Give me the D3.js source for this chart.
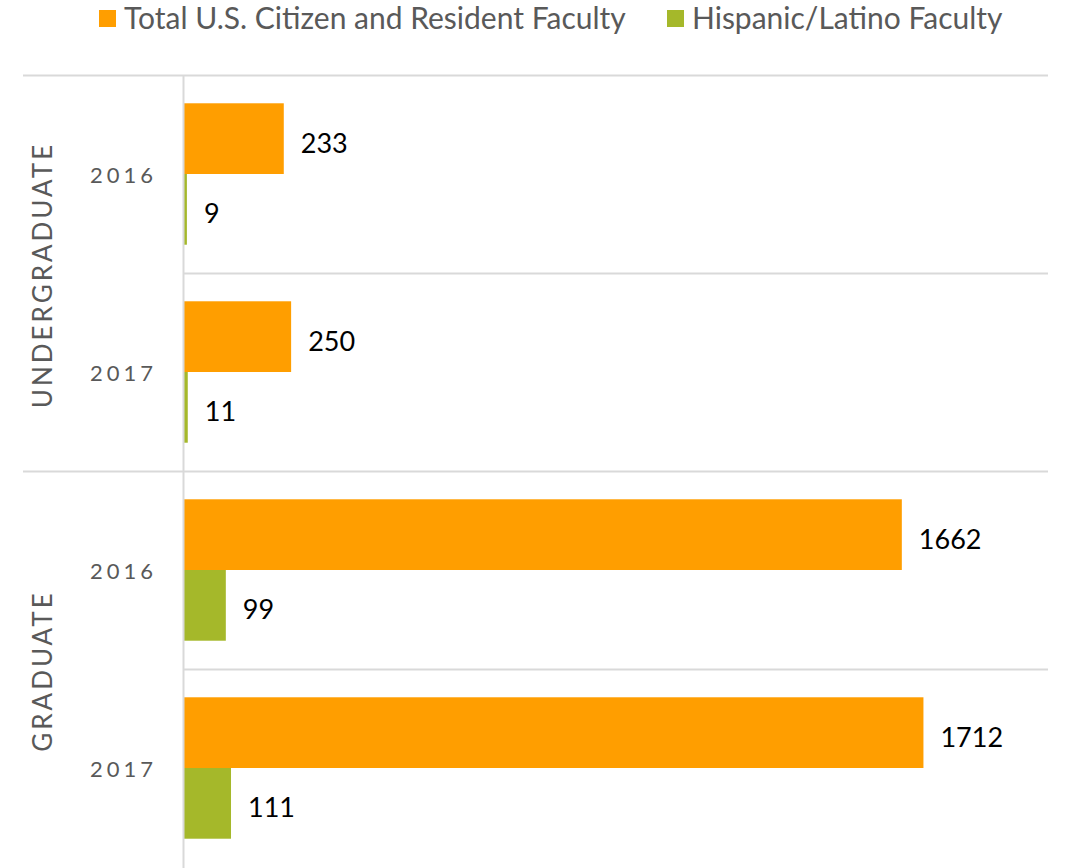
<!DOCTYPE html>
<html>
<head>
<meta charset="utf-8">
<script src="https://cdn.jsdelivr.net/npm/d3@7"></script>
<style>
  body { margin: 0; background: #fff; }
  svg text { font-family: Lato, "Open Sans", sans-serif; }
</style>
</head>
<body>
<svg id="chart" width="1077" height="868"></svg>
<script>
//chart data
var groups = ["UNDERGRADUATE", "GRADUATE"];
var years = ["2016", "2017"];
var seriesNames = ["Total U.S. Citizen and Resident Faculty", "Hispanic/Latino Faculty"];
var totalFaculty = [233, 250, 1662, 1712];
var hispanicFaculty = [9, 11, 99, 111];
var colors = ["#FF9E00", "#A5B82A"];

//layout (plotTop etc, "top" is taken by window.top)
var chartHeight = 868;
var plotLeft = 183, plotRight = 1048, plotTop = 75, plotBottom = 867;

var svg = d3.select("#chart");

//one row per group/year
var rows = [];
groups.forEach(function(g, gi) {
  years.forEach(function(yr, yi) {
    var i = gi * years.length + yi;
    rows.push({group: g, year: yr, key: g + "-" + yr, values: [totalFaculty[i], hispanicFaculty[i]]});
  });
});

var x = d3.scaleLinear().domain([0, 2000]).range([plotLeft, plotRight]);
var y = d3.scaleBand().domain(rows.map(function(d) { return d.key; })).range([plotTop, plotBottom]);
var ySeries = d3.scaleBand().domain([0, 1]).range([0, y.bandwidth()]).paddingOuter(0.4);

//horizontal grid lines: full width at group borders, plot width between years
rows.forEach(function(d, i) {
  var yy = y(d.key);
  svg.append("line")
    .attr("x1", i % years.length == 0 ? 23 : plotLeft)
    .attr("x2", plotRight)
    .attr("y1", yy + 0.5).attr("y2", yy + 0.5)
    .attr("stroke", "#d9d9d9").attr("stroke-width", 2);
});

//bars
var rowG = svg.selectAll(".row")
  .data(rows)
  .enter().append("g")
  .attr("class", "row")
  .attr("transform", function(d) { return "translate(0," + y(d.key) + ")"; });

rowG.selectAll("rect")
  .data(function(d) { return d.values; })
  .enter().append("rect")
  .attr("x", x(0))
  .attr("y", function(d, i) { return ySeries(i); })
  .attr("width", function(d) { return x(d) - x(0); })
  .attr("height", ySeries.bandwidth())
  .attr("fill", function(d, i) { return colors[i]; });

//value labels
rowG.selectAll(".val")
  .data(function(d) { return d.values; })
  .enter().append("text")
  .attr("class", "val")
  .attr("x", function(d) { return x(d) + 17; })
  .attr("y", function(d, i) { return ySeries(i) + ySeries.bandwidth() / 2 + 14; })
  .attr("font-size", 27)
  .attr("fill", "#000")
  .text(function(d) { return d; });

//vertical axis line
svg.append("line")
  .attr("x1", plotLeft + 0.5).attr("x2", plotLeft + 0.5)
  .attr("y1", plotTop).attr("y2", chartHeight)
  .attr("stroke", "#d9d9d9").attr("stroke-width", 2);

//year labels
svg.selectAll(".year")
  .data(rows)
  .enter().append("text")
  .attr("class", "year")
  .attr("x", 157)
  .attr("y", function(d) { return y(d.key) + y.bandwidth() / 2 + 9; })
  .attr("text-anchor", "end")
  .attr("font-size", 22)
  .attr("letter-spacing", 4)
  .attr("fill", "#595959")
  .text(function(d) { return d.year; });

//group labels (rotated)
groups.forEach(function(g, gi) {
  var y0 = y(rows[gi * years.length].key);
  var y1 = y(rows[gi * years.length + years.length - 1].key) + y.bandwidth();
  svg.append("text")
    .attr("transform", "translate(52," + ((y0 + y1) / 2 + 2) + ") rotate(-90)")
    .attr("text-anchor", "middle")
    .attr("font-size", 26)
    .attr("letter-spacing", 3)
    .attr("fill", "#595959")
    .text(g);
});

//legend
var legendX = [99, 667];
var legend = svg.selectAll(".legend")
  .data(seriesNames)
  .enter().append("g")
  .attr("class", "legend")
  .attr("transform", function(d, i) { return "translate(" + legendX[i] + ",10)"; });

legend.append("rect")
  .attr("width", 17).attr("height", 17)
  .attr("fill", function(d, i) { return colors[i]; });

legend.append("text")
  .attr("x", 25)
  .attr("y", 19)
  .attr("font-size", 30)
  .attr("fill", "#595959")
  .text(function(d) { return d; });
</script>
</body>
</html>
